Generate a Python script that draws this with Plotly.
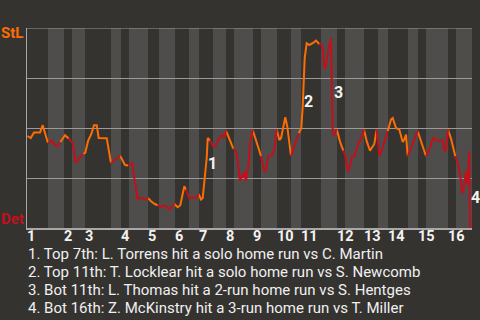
import plotly.graph_objects as go

# ---------------- data ----------------
# start of each half-inning on the game-progress axis (Top 1, Bot 1, Top 2, ...)
half_inning_starts = [0, 21, 37, 45, 58, 84, 94, 102, 121, 132, 148, 162, 172, 186,
                      199, 207, 226, 234, 250, 264, 274, 294, 310, 318, 337, 351,
                      361, 381, 391, 399, 421, 429]
game_end = 445

innings = ["1", "2", "3", "4", "5", "6", "7", "8", "9", "10", "11", "12", "13", "14", "15", "16"]

# game progress (play position) and StL win probability (%)
progress = [0.5, 3.7, 7, 13, 15.7, 17.7, 21, 24.7, 27.7, 30.7, 33.3, 38, 41.7, 45.7,
            48.3, 49.7, 52.3, 56.3, 58.3, 61, 64.3, 67, 69.7, 71.7, 79.7, 84, 93, 98,
            101.3, 105.3, 107.3, 110.7, 113, 115.7, 118.3, 121, 124, 127.7, 130.7, 134,
            137.3, 142.3, 147.3, 150.7, 153.3, 157.3, 159, 162.3, 166.3, 169, 171.7, 174,
            175.7, 178, 179.7, 180.7, 183, 186.3, 189, 192.3, 195, 197.3, 199, 202.3,
            206.3, 209, 210.7, 213, 215, 216.3, 217.7, 219, 221.7, 223, 225.7, 227.7,
            230.7, 234, 237.3, 239, 241.3, 245, 247.3, 249.7, 252.3, 254, 256.3, 258.3,
            260.3, 262.3, 264, 268.3, 271.7, 274.3, 275.7, 276.7, 277.7, 279.7, 282.3,
            285.7, 289, 292.3, 295, 297.7, 299.7, 301.7, 304, 305.7, 307.3, 309.7, 313,
            316.3, 318.3, 321, 323, 325, 327.7, 331.7, 334, 337, 339.7, 343, 347.3, 349.7,
            352.3, 355, 360.7, 364, 365.7, 369, 372.3, 375.7, 377.3, 379, 380.7, 384,
            390.7, 399, 403, 406.3, 409, 415.7, 417.3, 419, 421, 424, 428.3, 430.7, 433,
            435, 436.3, 439, 440.7, 442.3, 443]
stl_win_pct = [46, 45, 47.7, 47.7, 51.4, 47.5, 42.5, 43.7, 41.7, 40.9, 42.9, 46.4, 44.7, 42.5,
               33.4, 33, 35, 37, 37.7, 43.4, 47, 51.4, 51.4, 45, 44.9, 32.4, 36.2, 31.5,
               31.2, 32.4, 24.9, 14.5, 15.2, 14.7, 14.2, 15, 13.4, 12, 11.4, 10.4,
               11.4, 9.2, 12, 10.4, 11.4, 20.9, 19.2, 14.7, 15.4, 15, 17, 14.2,
               15, 25, 35, 45, 43.7, 40.9, 41.4, 45, 46.4, 45.4, 48.7, 44.7,
               39.7, 38.4, 33.4, 23.4, 26.7, 25, 28.4, 23.4, 32.4, 42.4, 49, 45.7,
               40.7, 36, 28.2, 29, 36, 36.5, 39, 49.4, 44, 44.9, 50.7, 55.4,
               50.7, 42.4, 36, 42.4, 47.4, 49.9, 60.7, 72.4, 84.9, 92.4, 91.5,
               92.4, 93.7, 92, 91.5, 79.4, 83.2, 89.9, 94.9, 47.4, 46.5, 49.4, 43.2,
               38.7, 36, 28.2, 30.7, 36, 36, 43.4, 43.7, 49.2, 43.4, 38.7, 42, 49.2,
               36, 39.2, 48.4, 54.2, 55, 50, 49.2, 43, 44.2, 46.7, 35.9, 40,
               48.4, 35.9, 40, 45.4, 43.7, 43.7, 38.4, 39.2, 49.2, 44.7, 35.9, 32.5, 27.5,
               18, 18, 28.4, 21.7, 38.4, 0]

captions = [
    "1. Top 7th: L. Torrens hit a solo home run vs C. Martin",
    "2. Top 11th: T. Locklear hit a solo home run vs S. Newcomb",
    "3. Bot 11th: L. Thomas hit a 2-run home run vs S. Hentges",
    "4. Bot 16th: Z. McKinstry hit a 3-run home run vs T. Miller",
]
event_labels = ["1", "2", "3", "4"]

# ---------------- styling ----------------
BG = "#353330"
BAND = "#4e4d4b"
GRID = "#9a9a9a"
ORANGE = "#ff6d00"
RED = "#c2101c"
FONT = "Roboto"


def half_of(x):
    h = 0
    for i, s in enumerate(half_inning_starts):
        if s < x:
            h = i
    return h


# build orange (top halves, StL batting) and red (bottom halves) polylines
traces = {ORANGE: ([], []), RED: ([], [])}
run_color = None
run_x, run_y = [], []
for i in range(1, len(progress)):
    c = ORANGE if half_of(progress[i]) % 2 == 0 else RED
    if c != run_color:
        if run_color is not None:
            tx, ty = traces[run_color]
            tx.extend(run_x + [None])
            ty.extend(run_y + [None])
        run_color = c
        run_x, run_y = [progress[i - 1]], [stl_win_pct[i - 1]]
    run_x.append(progress[i])
    run_y.append(stl_win_pct[i])
tx, ty = traces[run_color]
tx.extend(run_x)
ty.extend(run_y)

fig = go.Figure()
for col in (ORANGE, RED):
    fig.add_trace(go.Scatter(x=traces[col][0], y=traces[col][1], mode="lines",
                             line=dict(color=col, width=2), hoverinfo="skip",
                             showlegend=False, connectgaps=False))

shapes = []
ends = half_inning_starts[1:] + [game_end]
for h, (s, e) in enumerate(zip(half_inning_starts, ends)):
    if h % 2 == 1:
        shapes.append(dict(type="rect", xref="x", yref="paper", x0=s, x1=e, y0=0, y1=1,
                           fillcolor=BAND, line=dict(width=0), layer="below"))
shapes.append(dict(type="line", xref="paper", yref="y", x0=0, x1=1, y0=100, y1=100,
                   line=dict(color=GRID, width=1), layer="below"))

annotations = []
# inning labels
for n, lab in enumerate(innings):
    annotations.append(dict(x=half_inning_starts[2 * n], y=-0.041, xref="x", yref="paper",
                            text=lab, showarrow=False, xanchor="left", yanchor="middle",
                            xshift=-1, borderpad=0,
                            font=dict(family=FONT, size=14.5, color="#f2f2f2", weight="bold")))
# team labels
annotations.append(dict(x=0, y=100, xref="paper", yref="y", text="StL", showarrow=False,
                        xanchor="right", yanchor="middle", xshift=-2, yshift=-5,
                        font=dict(family=FONT, size=15, color=ORANGE, weight="bold")))
annotations.append(dict(x=0, y=0, xref="paper", yref="y", text="Det", showarrow=False,
                        xanchor="right", yanchor="middle", xshift=-1, yshift=9,
                        font=dict(family=FONT, size=15, color=RED, weight="bold")))
# event markers
event_pos = [(185, 32.5, "center", 0), (281.5, 63.5, "center", 0),
             (311.5, 67.8, "center", 0), (game_end, 15.5, "left", -2)]
for lab, (ex, ey, anc, sh) in zip(event_labels, event_pos):
    annotations.append(dict(x=ex, y=ey, xref="x", yref="y", text=lab, showarrow=False,
                            xanchor=anc, yanchor="middle", borderpad=0, xshift=sh,
                            font=dict(family=FONT, size=16, color="#f2f2f2", weight="bold")))
# captions
for k, cap in enumerate(captions):
    annotations.append(dict(x=0, y=(228 - (253.5 + 18 * k)) / 200, xref="paper", yref="paper",
                            text=cap, showarrow=False, xanchor="left", yanchor="middle",
                            borderpad=0,
                            font=dict(family=FONT, size=15, color="#f0f0f0")))

fig.update_layout(
    width=480, height=320,
    margin=dict(l=27, r=8, t=28, b=92),
    paper_bgcolor=BG, plot_bgcolor=BG,
    shapes=shapes, annotations=annotations,
    xaxis=dict(range=[0, game_end], showgrid=False, zeroline=False, showticklabels=False,
               ticks="", showline=True, linecolor="#a8a8a8", linewidth=2, fixedrange=True),
    yaxis=dict(range=[0, 100], tickvals=[25, 50, 75], showgrid=True, gridcolor=GRID,
               gridwidth=1, zeroline=False, showticklabels=False, ticks="",
               showline=True, linecolor="#a8a8a8", linewidth=1, fixedrange=True),
)

fig.write_html("out.html")
